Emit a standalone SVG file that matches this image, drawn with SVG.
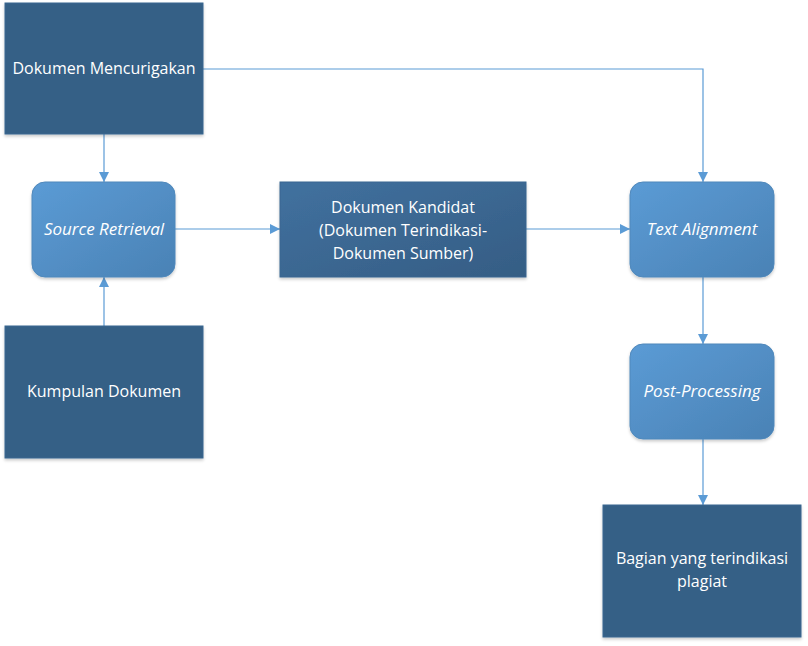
<svg xmlns="http://www.w3.org/2000/svg" width="808" height="646" viewBox="0 0 808 646">
<defs>
<linearGradient id="gBlue" x1="0" y1="0" x2="1" y2="1">
<stop offset="0" stop-color="#5b9bd5"/>
<stop offset="1" stop-color="#4a82b5"/>
</linearGradient>
<linearGradient id="gDark" x1="0" y1="0" x2="1" y2="1">
<stop offset="0" stop-color="#41719f"/>
<stop offset="1" stop-color="#355d84"/>
</linearGradient>
<filter id="sh" x="-10%" y="-10%" width="120%" height="130%">
<feDropShadow dx="0" dy="2" stdDeviation="1.5" flood-color="#000" flood-opacity="0.2"/>
</filter>
<marker id="arr" viewBox="0 0 10 10" refX="10" refY="5" markerWidth="10" markerHeight="10" markerUnits="userSpaceOnUse" orient="auto">
<path d="M0,0 L10,5 L0,10 z" fill="#5b9bd5"/>
</marker>
</defs>
<style>
.dark{fill:#366186;stroke:#3a6791;stroke-width:1;filter:url(#sh)}
.kand{fill:url(#gDark);stroke:#3a6791;stroke-width:1;filter:url(#sh)}
.round{fill:url(#gBlue);stroke:#4f88bb;stroke-width:1;filter:url(#sh)}
.t{font-family:"Open Sans","Liberation Sans",sans-serif;font-size:16px;fill:#ffffff;text-anchor:middle}
.i{font-style:italic;font-size:17px}
.c{fill:none;stroke:#5b9bd5;stroke-width:1.2;marker-end:url(#arr)}
</style>
<rect width="808" height="646" fill="#ffffff"/>
<g id="connectors">
<path class="c" d="M203,69 H703 V182"/>
<path class="c" d="M104,134 V182"/>
<path class="c" d="M104,326 V277"/>
<path class="c" d="M175,229 H280"/>
<path class="c" d="M526,229 H630"/>
<path class="c" d="M703,277 V344"/>
<path class="c" d="M703,439 V505"/>
</g>
<g id="dokumen-mencurigakan">
<rect class="dark" x="5" y="3" width="198" height="131"/>
<text class="t" x="104" y="74">Dokumen Mencurigakan</text>
</g>
<g id="source-retrieval">
<rect class="round" x="32" y="182" width="143" height="95" rx="13"/>
<text class="t i" x="104" y="235">Source Retrieval</text>
</g>
<g id="kumpulan-dokumen">
<rect class="dark" x="5" y="326" width="198" height="132"/>
<text class="t" x="104" y="397">Kumpulan Dokumen</text>
</g>
<g id="dokumen-kandidat">
<rect class="kand" x="280" y="182" width="246" height="95"/>
<text class="t" x="403" y="213">Dokumen Kandidat</text>
<text class="t" x="403" y="236">(Dokumen Terindikasi-</text>
<text class="t" x="403" y="259">Dokumen Sumber)</text>
</g>
<g id="text-alignment">
<rect class="round" x="630" y="182" width="144" height="95" rx="13"/>
<text class="t i" x="702" y="235">Text Alignment</text>
</g>
<g id="post-processing">
<rect class="round" x="630" y="344" width="144" height="95" rx="13"/>
<text class="t i" x="702" y="397">Post-Processing</text>
</g>
<g id="bagian">
<rect class="dark" x="603" y="505" width="198" height="132"/>
<text class="t" x="702" y="564">Bagian yang terindikasi</text>
<text class="t" x="702" y="587">plagiat</text>
</g>
</svg>
